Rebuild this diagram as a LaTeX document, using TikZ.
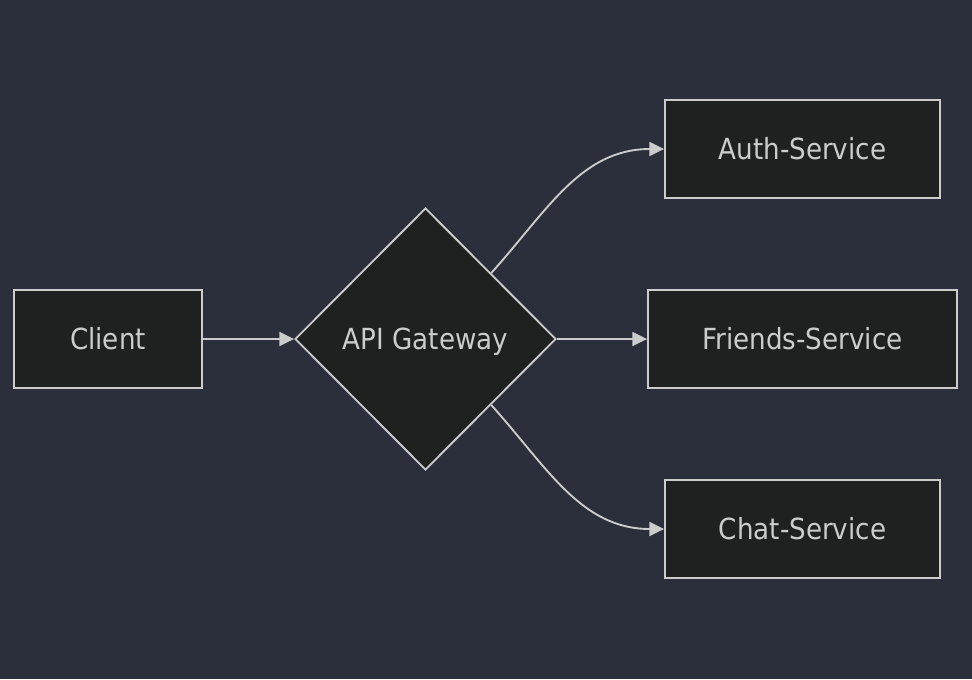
\documentclass[tikz,border=0pt]{standalone}
\usepackage{fontspec}
\setmainfont{DejaVu Sans Condensed}
\usetikzlibrary{shapes.geometric,arrows.meta}
\definecolor{bgcol}{HTML}{2A2F3B}
\definecolor{boxfill}{HTML}{1F2020}
\definecolor{linecol}{HTML}{CCCCCC}
\begin{document}
\begin{tikzpicture}[x=0.75pt,y=-0.75pt,
  every node/.style={font=\fontsize{21.8}{26}\selectfont,text=linecol},
  svcbox/.style={draw=linecol,fill=boxfill,line width=1.4pt,minimum height=73.5pt,inner sep=0pt},
  link/.style={draw=linecol,line width=1.4pt,-{Triangle[length=11pt,width=10.5pt]}}]
\useasboundingbox[fill=bgcol] (0,0) rectangle (972,679);
\node[svcbox,minimum width=141pt] (client) at (108,339) {Client};
\node[svcbox,diamond,minimum width=195.75pt,minimum height=196.5pt,text depth=0pt] (gw) at (425.5,339) {API Gateway};
\node[svcbox,minimum width=206.25pt] (auth) at (802.5,149) {Auth-Service};
\node[svcbox,minimum width=231.75pt] (friends) at (802.5,339) {Friends-Service};
\node[svcbox,minimum width=206.25pt] (chat) at (802.5,529) {Chat-Service};
\draw[link] (client) -- (gw.west);
\draw[link] (gw.north east) to[out=48,in=180] (auth.west);
\draw[link] (gw.east) -- (friends.west);
\draw[link] (gw.south east) to[out=-48,in=180] (chat.west);
\end{tikzpicture}
\end{document}
